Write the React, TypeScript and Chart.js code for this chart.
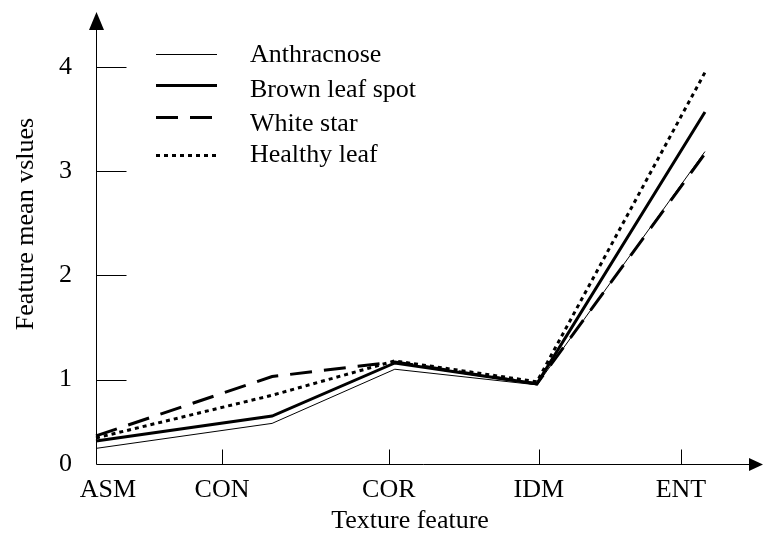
import React, { useEffect, useRef } from 'react';
import { Chart, registerables } from 'chart.js';

Chart.register(...registerables);

// ---- data ----
const categories = ['ASM', 'CON', 'COR', 'IDM', 'ENT'];
// category label positions on the (0..100) horizontal feature axis
const categoryTickPositions = [1.8, 18.9, 43.9, 66.4, 87.7];
// where each series' vertex sits on the same axis
const featurePositions = [0, 26.4, 44.8, 66.1, 91.3];

const seriesNames = ['Anthracnose', 'Brown leaf spot', 'White star', 'Healthy leaf'];
const anthracnose = [0.34, 0.58, 1.1, 0.95, 3.19];
const brownLeafSpot = [0.41, 0.65, 1.16, 0.96, 3.57];
const whiteStar = [0.46, 1.03, 1.17, 0.96, 3.17];
const healthyLeaf = [0.44, 0.85, 1.18, 0.98, 3.95];

const yTickValues = [1, 2, 3, 4];
const yAxisMin = 0.19; // the origin, labelled "0" in the figure
const yAxisMax = 4.53;
const xAxisMin = 0;
const xAxisMax = 100;

const FONT = '"Liberation Serif", "Times New Roman", Times, serif';

const decorPlugin = {
  id: 'decor',
  afterDraw(chart: any) {
    const { ctx, chartArea, scales } = chart;
    const { left, right, top, bottom } = chartArea;
    const x = scales.x;
    const y = scales.y;
    ctx.save();
    ctx.strokeStyle = '#000';
    ctx.fillStyle = '#000';
    ctx.lineWidth = 1;
    ctx.setLineDash([]);
    const ax = Math.round(left) + 0.5;
    const ay = Math.round(bottom) + 0.5;
    const line = (x1: number, y1: number, x2: number, y2: number) => {
      ctx.beginPath();
      ctx.moveTo(x1, y1);
      ctx.lineTo(x2, y2);
      ctx.stroke();
    };
    // y axis with arrow
    line(ax, ay, ax, top + 16);
    ctx.beginPath();
    ctx.moveTo(ax, top);
    ctx.lineTo(ax - 7.5, top + 18);
    ctx.lineTo(ax + 7.5, top + 18);
    ctx.closePath();
    ctx.fill();
    // x axis with arrow
    line(ax, ay, right - 12, ay);
    ctx.beginPath();
    ctx.moveTo(right, ay);
    ctx.lineTo(right - 14, ay - 6.5);
    ctx.lineTo(right - 14, ay + 6.5);
    ctx.closePath();
    ctx.fill();
    // inward tick marks
    categoryTickPositions.slice(1).forEach((v) => {
      const px = Math.round(x.getPixelForValue(v)) + 0.5;
      line(px, ay, px, ay - 15);
    });
    yTickValues.forEach((v) => {
      const py = Math.round(y.getPixelForValue(v)) + 0.5;
      line(ax, py, ax + 30, py);
    });

    // legend
    const rowY = [54, 85, 117, 155];
    const textY = [62, 97, 131, 162];
    ctx.font = `26px ${FONT}`;
    ctx.textAlign = 'left';
    ctx.textBaseline = 'alphabetic';
    chart.data.datasets.forEach((ds: any, i: number) => {
      ctx.save();
      ctx.lineWidth = ds.borderWidth;
      ctx.setLineDash(ds.borderDash || []);
      ctx.strokeStyle = ds.borderColor;
      const ly = ds.borderWidth % 2 === 1 ? rowY[i] + 0.5 : rowY[i];
      line(156, ly, 217, ly);
      ctx.restore();
      ctx.fillText(ds.label, 250, textY[i]);
    });

    // axis titles
    ctx.textAlign = 'center';
    ctx.fillText('Texture feature', 410, 528);
    ctx.save();
    ctx.translate(33, 224);
    ctx.rotate(-Math.PI / 2);
    ctx.fillText('Feature mean vslues', 0, 0);
    ctx.restore();
    ctx.restore();
  },
};

const zeroPadding = (scale: any) => {
  scale.paddingTop = 0;
  scale.paddingBottom = 0;
  scale.paddingLeft = 0;
  scale.paddingRight = 0;
};

export default function App() {
  const canvasRef = useRef<HTMLCanvasElement | null>(null);

  useEffect(() => {
    document.body.style.margin = '0';
    const canvas = canvasRef.current;
    if (!canvas) return;
    const toPoints = (vals: number[]) =>
      vals.map((v, i) => ({ x: featurePositions[i], y: v }));
    const styles = [
      { borderWidth: 1, borderDash: [] as number[] },
      { borderWidth: 3, borderDash: [] as number[] },
      { borderWidth: 3, borderDash: [22, 12] },
      { borderWidth: 3, borderDash: [4, 4] },
    ];
    const values = [anthracnose, brownLeafSpot, whiteStar, healthyLeaf];
    const chart = new Chart(canvas, {
      type: 'line',
      data: {
        datasets: values.map((vals, i) => ({
          label: seriesNames[i],
          data: toPoints(vals),
          borderColor: '#000',
          backgroundColor: '#000',
          borderWidth: styles[i].borderWidth,
          borderDash: styles[i].borderDash,
          borderJoinStyle: 'miter' as const,
          pointRadius: 0,
          tension: 0,
          fill: false,
          clip: false as any,
        })),
      },
      options: {
        animation: false,
        responsive: false,
        maintainAspectRatio: false,
        layout: { autoPadding: false, padding: { top: 12, right: 0, bottom: 0, left: 0 } },
        plugins: {
          legend: { display: false },
          tooltip: { enabled: false },
          title: { display: false },
        },
        font: { family: FONT, size: 26 },
        scales: {
          x: {
            type: 'linear',
            min: xAxisMin,
            max: xAxisMax,
            offset: false,
            grid: { display: false, drawTicks: false },
            border: { display: false },
            afterBuildTicks: (scale: any) => {
              scale.ticks = categoryTickPositions.map((v) => ({ value: v }));
            },
            afterFit: (scale: any) => {
              scale.height = 69;
              zeroPadding(scale);
            },
            ticks: {
              autoSkip: false,
              maxRotation: 0,
              padding: 11,
              color: '#000',
              font: { family: FONT, size: 26 },
              callback: (_v: any, index: number) => categories[index],
            },
          },
          y: {
            type: 'linear',
            min: yAxisMin,
            max: yAxisMax,
            offset: false,
            grid: { display: false, drawTicks: false },
            border: { display: false },
            afterBuildTicks: (scale: any) => {
              scale.ticks = [yAxisMin, ...yTickValues].map((v) => ({ value: v }));
            },
            afterFit: (scale: any) => {
              scale.width = 96;
              zeroPadding(scale);
            },
            ticks: {
              autoSkip: false,
              padding: 24,
              color: '#000',
              font: { family: FONT, size: 26 },
              callback: (v: any) => (v === yAxisMin ? '0' : String(v)),
            },
          },
        },
      } as any,
      plugins: [decorPlugin],
    });
    // eslint-disable-next-line no-console
    console.log('chartArea', JSON.stringify(chart.chartArea));
    return () => chart.destroy();
  }, []);

  return (
    <canvas
      ref={canvasRef}
      width={763}
      height={533}
      style={{ display: 'block', width: 763, height: 533 }}
    />
  );
}
